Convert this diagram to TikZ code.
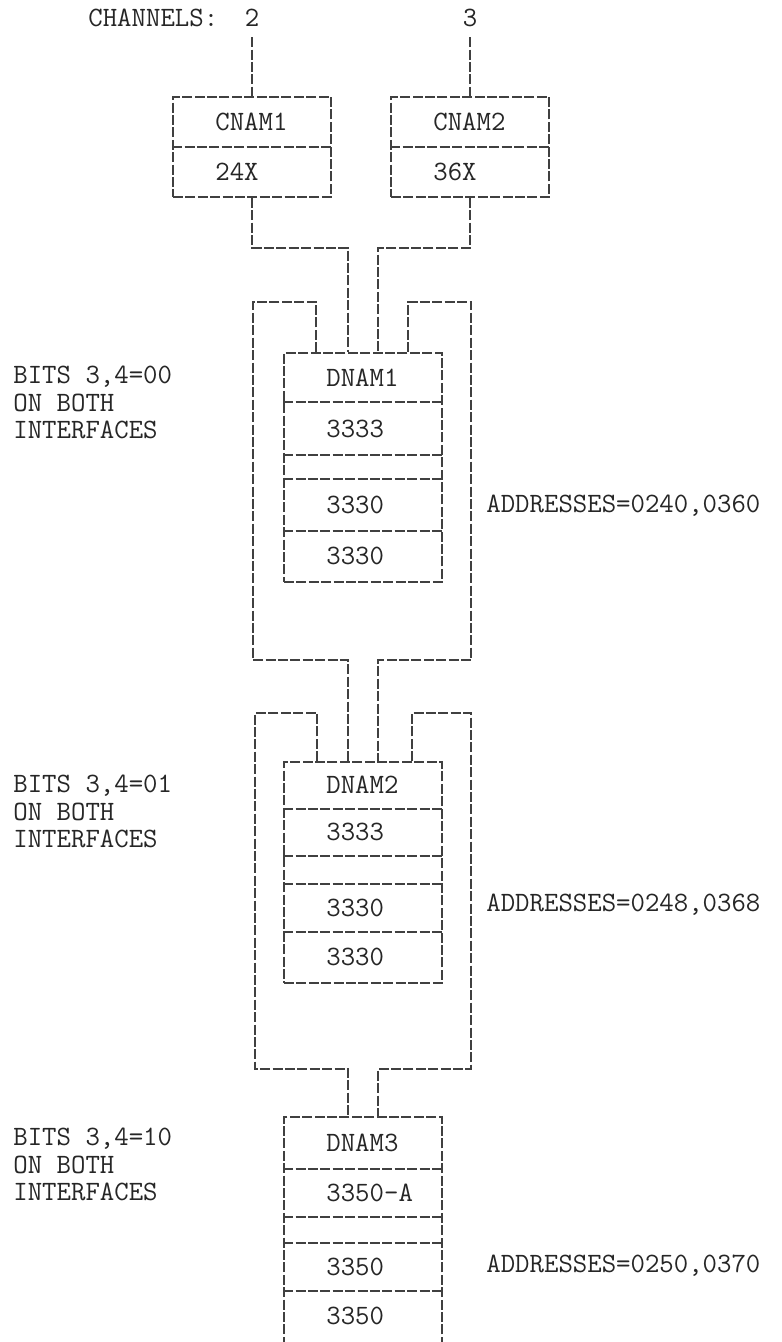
\documentclass[tikz,border=0pt]{standalone}
\usepackage{fontspec}
\tikzset{
	trait/.style={draw=black!75, line width=0.9pt, dash pattern=on 5pt off 1.2pt},
	boite/.style={trait, rectangle, minimum width=79pt, inner sep=0pt},
	texte/.style={font=\ttfamily\fontsize{14}{16}\selectfont, text=black!85, inner sep=0pt, anchor=west}
}
\begin{document}
\begin{tikzpicture}[x=0.5pt,y=-0.5pt]
		\useasboundingbox[fill=white] (0,0) rectangle (781,1342);

		% canaux
		\node[texte] (chan) at (88,18) {CHANNELS:};
		\node[texte, anchor=center] (lab2) at (252,18) {2};
		\node[texte, anchor=center] (lab3) at (470,18) {3};

		% controleurs
		\node[boite, minimum height=50pt] (cnam1) at (252,147) {};
		\node[boite, minimum height=50pt] (cnam2) at (470,147) {};
		\draw[trait] (cnam1.west) -- (cnam1.east);
		\draw[trait] (cnam2.west) -- (cnam2.east);
		\node[texte] (tc1) at (215,122) {CNAM1};
		\node[texte] (tn1) at (215,172) {24X};
		\node[texte] (tc2) at (433,122) {CNAM2};
		\node[texte] (tn2) at (433,172) {36X};

		% unites de disques
		\node[boite, minimum height=114.5pt] (dnam1) at (363,467.5) {};
		\node[boite, minimum height=110.5pt] (dnam2) at (363,872.5) {};
		\node[boite, minimum height=116.5pt] (dnam3) at (363,1233.5) {};
		\foreach \y in {402,455,479,531}
			\draw[trait] (dnam1.west |- 0,\y) -- (dnam1.east |- 0,\y);
		\foreach \y in {809,856,884,932}
			\draw[trait] (dnam2.west |- 0,\y) -- (dnam2.east |- 0,\y);
		\foreach \y in {1169,1217,1243,1291}
			\draw[trait] (dnam3.west |- 0,\y) -- (dnam3.east |- 0,\y);

		\node[texte] (td1) at (326,378) {DNAM1};
		\node[texte] (td1a) at (326,429) {3333};
		\node[texte] (td1b) at (326,505) {3330};
		\node[texte] (td1c) at (326,556) {3330};
		\node[texte] (td2) at (326,785) {DNAM2};
		\node[texte] (td2a) at (326,832) {3333};
		\node[texte] (td2b) at (326,908) {3330};
		\node[texte] (td2c) at (326,957) {3330};
		\node[texte] (td3) at (326,1143) {DNAM3};
		\node[texte] (td3a) at (326,1193) {3350-A};
		\node[texte] (td3b) at (326,1267) {3350};
		\node[texte] (td3c) at (326,1316) {3350};

		% liaisons
		\draw[trait] (lab2.south) ++(0,10) -- (cnam1.north);
		\draw[trait] (lab3.south) ++(0,10) -- (cnam2.north);
		\draw[trait] (cnam1.south) |- (348,248) -- (dnam1.north -| 348,0);
		\draw[trait] (cnam2.south) |- (378,248) -- (dnam1.north -| 378,0);
		\draw[trait] (dnam1.north -| 316,0) |- (253,302) |- (348,660) -- (dnam2.north -| 348,0);
		\draw[trait] (dnam1.north -| 408,0) |- (471,302) |- (378,660) -- (dnam2.north -| 378,0);
		\draw[trait] (dnam2.north -| 317,0) |- (255,713) |- (348,1069) -- (dnam3.north -| 348,0);
		\draw[trait] (dnam2.north -| 412,0) |- (471,713) |- (378,1069) -- (dnam3.north -| 378,0);

		% textes
		\foreach \y/\b in {377/00,786/01,1139/10} {
			\node[texte] (bits\b) at (13,\y) {BITS 3,4=\b};
			\node[texte] (on\b) at (13,\y+26) {ON BOTH};
			\node[texte] (int\b) at (13,\y+53) {INTERFACES};
		}
		\node[texte] (adr1) at (486,506) {ADDRESSES=0240,0360};
		\node[texte] (adr2) at (486,905) {ADDRESSES=0248,0368};
		\node[texte] (adr3) at (486,1266) {ADDRESSES=0250,0370};
	\end{tikzpicture}
\end{document}
